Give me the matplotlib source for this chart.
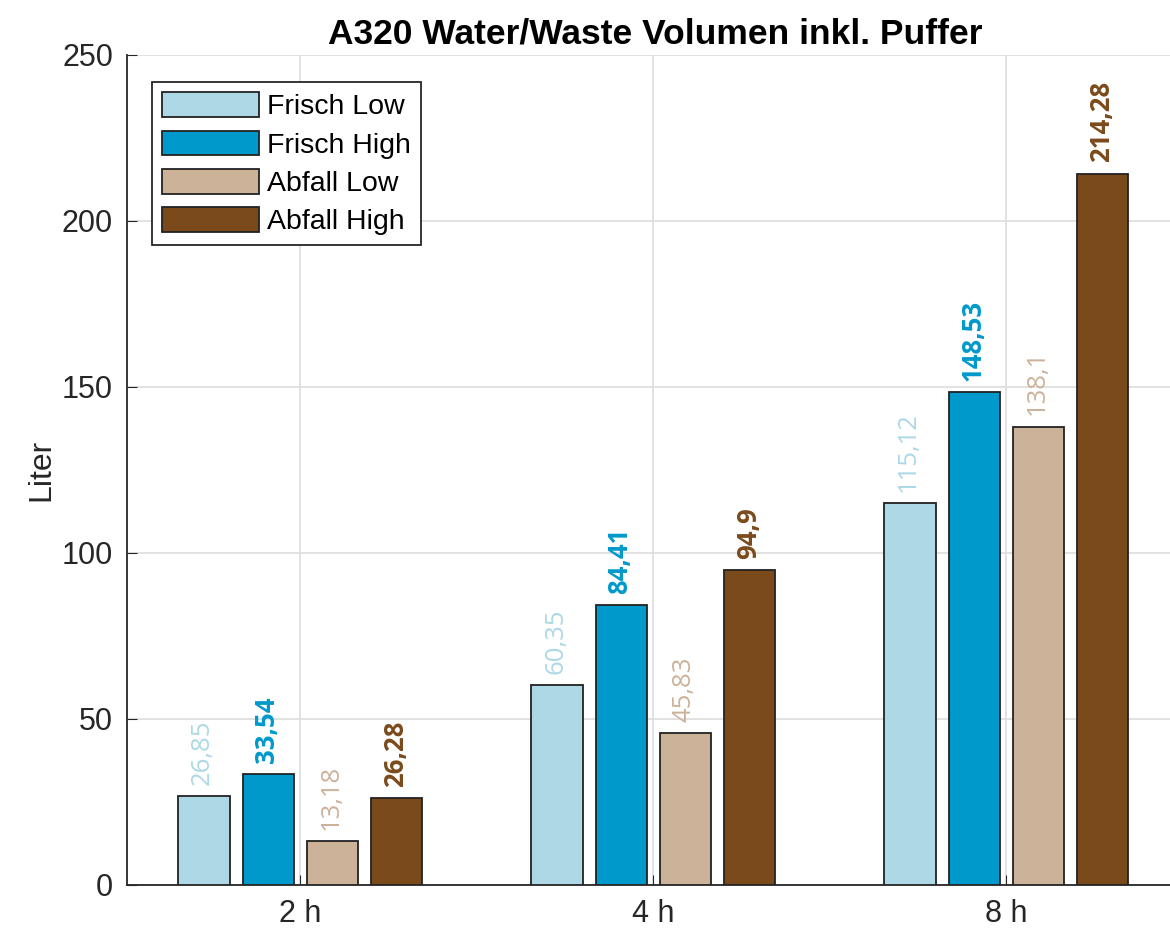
import matplotlib.pyplot as plt
import numpy as np

# data
categories = ["2 h", "4 h", "8 h"]
series = ["Frisch Low", "Frisch High", "Abfall Low", "Abfall High"]
frisch_low = [26.85, 60.35, 115.12]
frisch_high = [33.54, 84.41, 148.53]
abfall_low = [13.18, 45.83, 138.1]
abfall_high = [26.28, 94.9, 214.28]
labels = [["26,85", "60,35", "115,12"],
          ["33,54", "84,41", "148,53"],
          ["13,18", "45,83", "138,1"],
          ["26,28", "94,9", "214,28"]]

colors = ["#ADD8E6", "#0099CC", "#CDB29A", "#7B4A1A"]
weights = ["normal", "bold", "normal", "bold"]

fig = plt.figure(figsize=(11.7, 9.33), dpi=100)
# axes runs a little past the right edge of the picture
ax = fig.add_axes([127/1170, 48/933, 1056/1170, 830/933])

x = np.arange(1, len(categories)+1)
step = 0.182
width = 0.145
data = [frisch_low, frisch_high, abfall_low, abfall_high]
for i, vals in enumerate(data):
    xs = x + (i-1.5)*step
    ax.bar(xs, vals, width, color=colors[i], edgecolor="#222222", linewidth=1.3,
           label=series[i], zorder=3)
    for xi, v, t in zip(xs, vals, labels[i]):
        ax.annotate(t, (xi, v), xytext=(-1, 8), textcoords="offset points",
                    rotation=90, ha="center", va="bottom", color=colors[i],
                    fontsize=18.5, fontweight=weights[i], family="Open Sans")

ax.set_xlim(0.509, 3.5)
ax.set_ylim(0, 250)
ax.set_xticks(x)
ax.set_xticklabels(categories)
ax.set_yticks(np.arange(0, 251, 50))
ax.tick_params(direction="in", labelsize=22, colors="#262626", length=7, pad=10)
for lbl in ax.get_xticklabels() + ax.get_yticklabels():
    lbl.set_family("Liberation Sans")
ax.grid(True, color="#dddddd", linewidth=1.2, zorder=0)
ax.set_axisbelow(True)
for s in ["top", "right"]:
    ax.spines[s].set_visible(False)
for s in ["left", "bottom"]:
    ax.spines[s].set_color("#262626")
    ax.spines[s].set_linewidth(1.3)

ax.set_ylabel("Liter", fontsize=23, family="Liberation Sans", color="#262626", labelpad=4)
ax.set_title("A320 Water/Waste Volumen inkl. Puffer", fontsize=25.5, fontweight="bold",
             family="Liberation Sans", pad=8)

leg = ax.legend(loc="upper left", bbox_to_anchor=(0.0237, 0.967), borderaxespad=0,
                prop={"family": "Liberation Sans", "size": 20.5}, fancybox=False,
                framealpha=1, edgecolor="#262626", handlelength=3.4, handleheight=0.95,
                handletextpad=0.3, labelspacing=0.36, borderpad=0.35)
leg.get_frame().set_linewidth(1.3)

fig.savefig("out.png", dpi=100)
